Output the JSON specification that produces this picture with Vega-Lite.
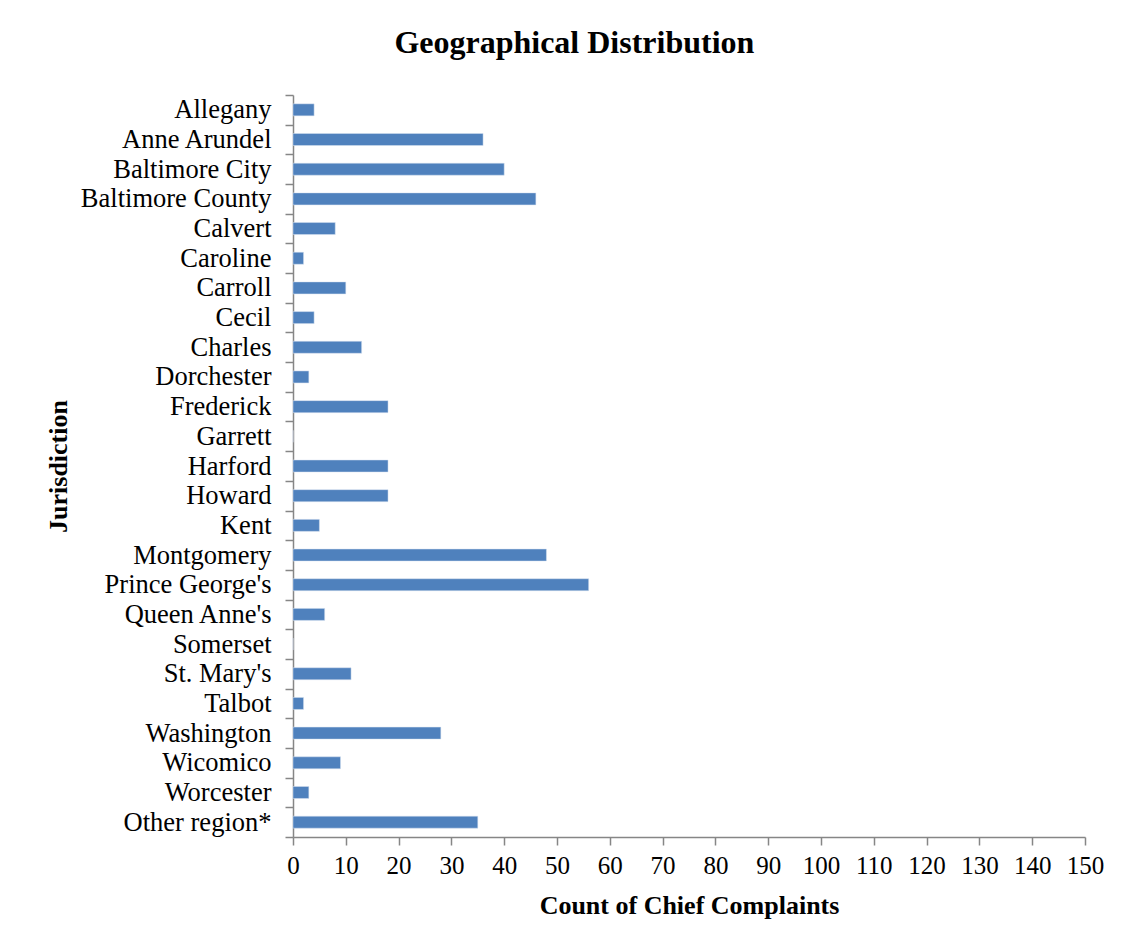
{
  "$schema": "https://vega.github.io/schema/vega-lite/v6.json",
  "width": 792,
  "height": 742,
  "padding": {"left": 45, "top": 27, "right": 10, "bottom": 10},
  "background": "white",
  "title": {
    "text": "Geographical Distribution",
    "font": "Liberation Serif",
    "fontSize": 32,
    "fontWeight": "bold",
    "color": "black",
    "anchor": "middle",
    "frame": "bounds",
    "offset": 22
  },
  "data": {
    "values": [
      {"jurisdiction": "Allegany", "count": 4},
      {"jurisdiction": "Anne Arundel", "count": 36},
      {"jurisdiction": "Baltimore City", "count": 40},
      {"jurisdiction": "Baltimore County", "count": 46},
      {"jurisdiction": "Calvert", "count": 8},
      {"jurisdiction": "Caroline", "count": 2},
      {"jurisdiction": "Carroll", "count": 10},
      {"jurisdiction": "Cecil", "count": 4},
      {"jurisdiction": "Charles", "count": 13},
      {"jurisdiction": "Dorchester", "count": 3},
      {"jurisdiction": "Frederick", "count": 18},
      {"jurisdiction": "Garrett", "count": 0},
      {"jurisdiction": "Harford", "count": 18},
      {"jurisdiction": "Howard", "count": 18},
      {"jurisdiction": "Kent", "count": 5},
      {"jurisdiction": "Montgomery", "count": 48},
      {"jurisdiction": "Prince George's", "count": 56},
      {"jurisdiction": "Queen Anne's", "count": 6},
      {"jurisdiction": "Somerset", "count": 0},
      {"jurisdiction": "St. Mary's", "count": 11},
      {"jurisdiction": "Talbot", "count": 2},
      {"jurisdiction": "Washington", "count": 28},
      {"jurisdiction": "Wicomico", "count": 9},
      {"jurisdiction": "Worcester", "count": 3},
      {"jurisdiction": "Other region*", "count": 35}
    ]
  },
  "mark": {"type": "bar", "color": "#4F81BD", "size": 12, "stroke": "#D9E3F0", "strokeWidth": 0.5},
  "encoding": {
    "y": {
      "field": "jurisdiction",
      "type": "nominal",
      "sort": null,
      "scale": {"paddingInner": 0, "paddingOuter": 0},
      "axis": {
        "title": "Jurisdiction",
        "tickBand": "extent",
        "tickSize": 8,
        "labelPadding": 14,
        "titlePadding": 22,
        "labelFontSize": 26.5
      }
    },
    "x": {
      "field": "count",
      "type": "quantitative",
      "scale": {"domain": [0, 150], "nice": false},
      "axis": {
        "title": "Count of Chief Complaints",
        "values": [0,10,20,30,40,50,60,70,80,90,100,110,120,130,140,150],
        "labelOverlap": false,
        "labelFlush": false,
        "grid": false,
        "tickSize": 8,
        "labelPadding": 8,
        "titlePadding": 14,
        "labelFontSize": 25
      }
    }
  },
  "config": {
    "view": {"stroke": null},
    "axis": {
      "domainColor": "#868686",
      "domainWidth": 1.5,
      "tickColor": "#868686",
      "tickWidth": 1.5,
      "labelFont": "Liberation Serif",
      "labelColor": "black",
      "titleFont": "Liberation Serif",
      "titleFontSize": 26,
      "titleFontWeight": "bold",
      "titleColor": "black",
      "labelLimit": 400
    }
  }
}
